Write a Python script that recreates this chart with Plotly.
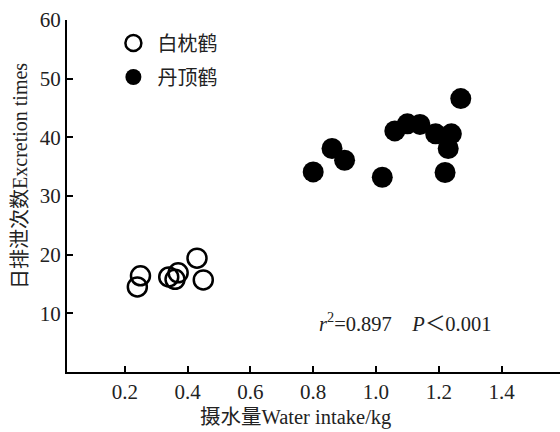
import plotly.graph_objects as go

# 白枕鹤 (white-naped crane): water intake (kg) vs daily excretion times
white_naped_x = [0.24, 0.25, 0.34, 0.36, 0.37, 0.43, 0.45]
white_naped_y = [14.5, 16.4, 16.2, 15.8, 16.9, 19.4, 15.7]

# 丹顶鹤 (red-crowned crane)
red_crowned_x = [0.80, 0.86, 0.90, 1.02, 1.06, 1.10, 1.14, 1.19, 1.24, 1.23, 1.22, 1.27]
red_crowned_y = [34.1, 38.1, 36.1, 33.2, 41.1, 42.3, 42.2, 40.6, 40.6, 38.1, 34.0, 46.6]

x_ticks = [0.2, 0.4, 0.6, 0.8, 1.0, 1.2, 1.4]
y_ticks = [10, 20, 30, 40, 50, 60]

serif = "Liberation Serif, Noto Sans CJK SC, serif"
ink = "#222222"

fig = go.Figure()
fig.add_trace(go.Scatter(
    x=white_naped_x, y=white_naped_y, mode="markers", name="白枕鹤",
    legendgroup="a",
    marker=dict(symbol="circle-open", size=19, color="black", line=dict(width=2.5, color="black")),
))
fig.add_trace(go.Scatter(
    x=red_crowned_x, y=red_crowned_y, mode="markers", name="丹顶鹤",
    legendgroup="b",
    marker=dict(symbol="circle", size=21, color="black"),
))

fig.update_layout(
    width=560, height=432,
    margin=dict(l=67, r=0, t=20, b=60),
    paper_bgcolor="white", plot_bgcolor="white",
    font=dict(family=serif, size=20, color=ink),
    showlegend=True,
    legend=dict(
        x=0.086, y=0.99, xanchor="left", yanchor="top",
        bgcolor="rgba(0,0,0,0)", tracegroupgap=5, itemwidth=38,
        itemsizing="trace", font=dict(size=20, color=ink),
    ),
    xaxis=dict(
        range=[0.016, 1.586], tickmode="array", tickvals=x_ticks,
        ticktext=[f"{v:.1f}" for v in x_ticks],
        showgrid=False, zeroline=False, showline=True, linecolor="black", linewidth=2,
        ticks="inside", ticklen=6, tickwidth=2, tickcolor="black",
        tickfont=dict(size=21, color=ink),
    ),
    yaxis=dict(
        range=[0, 60], tickmode="array", tickvals=y_ticks,
        showgrid=False, zeroline=False, showline=True, linecolor="black", linewidth=2,
        ticks="inside", ticklen=6, tickwidth=2, tickcolor="black",
        tickfont=dict(size=21, color=ink),
    ),
    annotations=[
        dict(
            x=1.095, y=8.5, xref="x", yref="y", showarrow=False,
            text="<i>r</i><sup>2</sup>=0.897    <i>P</i>＜0.001",
            font=dict(size=20.5, color=ink, family=serif),
        ),
        dict(
            x=0.4625, y=-0.128, xref="paper", yref="paper", showarrow=False,
            xanchor="center", yanchor="middle",
            text="摄水量Water intake/kg",
            font=dict(size=20.5, color=ink, family=serif),
        ),
        dict(
            x=-0.0953, y=0.557, xref="paper", yref="paper", showarrow=False,
            xanchor="center", yanchor="middle", textangle=-90,
            text="日排泄次数Excretion times",
            font=dict(size=20, color=ink, family=serif),
        ),
    ],
)

fig.write_html("out.html")
